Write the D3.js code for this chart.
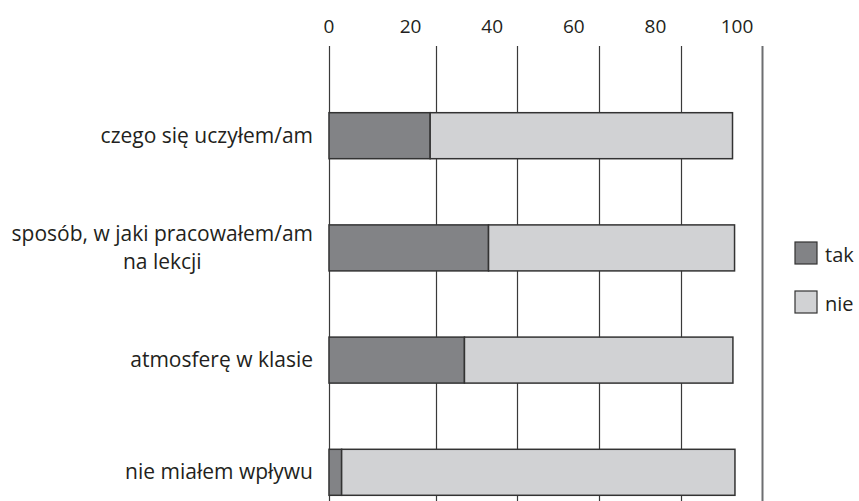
<!DOCTYPE html>
<html>
<head>
<meta charset="utf-8">
<script src="https://cdn.jsdelivr.net/npm/d3@7"></script>
<style>
  body { margin: 0; background: #fff; }
  text { font-family: "Open Sans", sans-serif; fill: #231f20; }
</style>
</head>
<body>
<div id="chart"></div>
<script>
// categories (top to bottom), "\n" marks a line break in the label
var categories = ["czego się uczyłem/am", "sposób, w jaki pracowałem/am\nna lekcji", "atmosferę w klasie", "nie miałem wpływu"];
var takValues = [24.8, 39.1, 33.2, 3.1];
var nieValues = [74.1, 60.3, 65.8, 96.4];
var tickValues = [0, 20, 40, 60, 80, 100];
// vertical lines of the original sit off the tick labels
var gridValues = [0, 26.2, 46.2, 66.1, 86.2, 106.1];
var seriesNames = ["tak", "nie"];
var seriesColors = ["#828386", "#d1d2d4"];

var width = 859, height = 501;

var svg = d3.select("#chart").append("svg")
    .attr("width", width)
    .attr("height", height);

var x = d3.scaleLinear().domain([0, 100]).range([329, 737]);
var y = d3.scalePoint().domain(categories).range([135.7, 472.3]);
var barH = 46;

// grid lines
svg.selectAll(".grid")
    .data(gridValues)
    .enter().append("line")
    .attr("class", "grid")
    .attr("x1", function (d) { return Math.round(x(d)) + 0.5; })
    .attr("x2", function (d) { return Math.round(x(d)) + 0.5; })
    .attr("y1", 46)
    .attr("y2", height)
    .attr("stroke", function (d, i) { return i === gridValues.length - 1 ? "#6d6e71" : "#3a3a3a"; })
    .attr("stroke-width", function (d, i) { return i === gridValues.length - 1 ? 2 : 1.2; });

// tick labels on top
svg.selectAll(".tick-label")
    .data(tickValues)
    .enter().append("text")
    .attr("class", "tick-label")
    .attr("x", function (d) { return x(d); })
    .attr("y", 33)
    .attr("text-anchor", "middle")
    .style("font-size", "19px")
    .text(function (d) { return d; });

// stacked bars
var rows = categories.map(function (c, i) {
    return { cat: c, parts: [[0, takValues[i]], [takValues[i], takValues[i] + nieValues[i]]] };
});

var rowG = svg.selectAll(".row")
    .data(rows)
    .enter().append("g")
    .attr("class", "row");

rowG.selectAll("rect")
    .data(function (d) { return d.parts.map(function (p, k) { return { cat: d.cat, p: p, k: k }; }); })
    .enter().append("rect")
    .attr("x", function (d) { return x(d.p[0]); })
    .attr("y", function (d) { return y(d.cat) - barH / 2; })
    .attr("width", function (d) { return x(d.p[1]) - x(d.p[0]); })
    .attr("height", barH)
    .attr("fill", function (d) { return seriesColors[d.k]; })
    .attr("stroke", "#333")
    .attr("stroke-width", 1.5);

// category labels: lines centred on each other, block right-aligned
var labelRight = 313;
var lineH = 28;
categories.forEach(function (c) {
    var lines = c.split("\n");
    var g = svg.append("g");
    var texts = lines.map(function (ln, i) {
        return g.append("text")
            .attr("y", y(c) + 7 + (i - (lines.length - 1) / 2) * lineH)
            .attr("text-anchor", "middle")
            .style("font-size", "21px")
            .text(ln);
    });
    var maxW = d3.max(texts, function (t) { return t.node().getComputedTextLength(); });
    texts.forEach(function (t) { t.attr("x", labelRight - maxW / 2); });
});

// legend
var legend = svg.selectAll(".legend")
    .data(seriesNames)
    .enter().append("g")
    .attr("class", "legend")
    .attr("transform", function (d, i) { return "translate(795," + (242 + i * 49) + ")"; });

legend.append("rect")
    .attr("width", 22)
    .attr("height", 22)
    .attr("fill", function (d, i) { return seriesColors[i]; })
    .attr("stroke", "#333")
    .attr("stroke-width", 1.2);

legend.append("text")
    .attr("x", 30)
    .attr("y", 20)
    .style("font-size", "20px")
    .text(function (d) { return d; });
</script>
</body>
</html>
